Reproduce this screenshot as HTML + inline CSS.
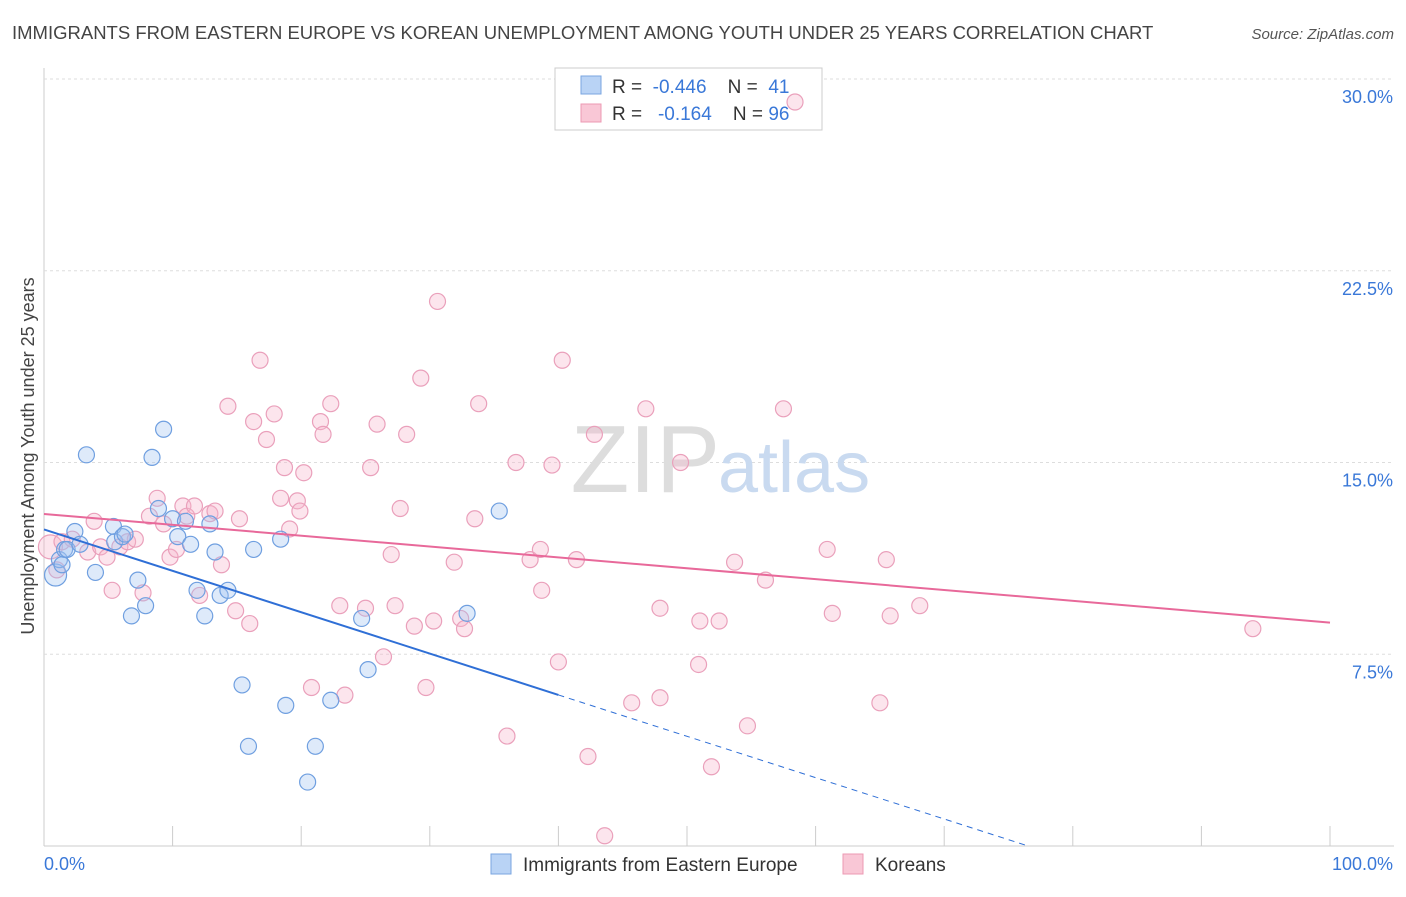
<!DOCTYPE html>
<html><head><meta charset="utf-8"><style>
body{margin:0;background:#fff;font-family:"Liberation Sans",sans-serif}
svg text{font-family:"Liberation Sans",sans-serif}
</style></head><body>
<svg id="chart" width="1406" height="892">
<text x="12" y="39" font-size="18.5" fill="#444">IMMIGRANTS FROM EASTERN EUROPE VS KOREAN UNEMPLOYMENT AMONG YOUTH UNDER 25 YEARS CORRELATION CHART</text>
<text x="1394" y="39" font-size="15" fill="#555" text-anchor="end" font-style="italic">Source: ZipAtlas.com</text>
<text transform="translate(34,456) rotate(-90)" font-size="18" fill="#444" text-anchor="middle">Unemployment Among Youth under 25 years</text>
<g id="grid"></g>
<text x="720" y="492" font-size="96" fill="#ddd" text-anchor="end" font-family="Liberation Serif">ZIP</text>
<text x="718" y="492" font-size="72" fill="#c9daf0">atlas</text>
<g>
<rect x="555" y="68" width="267" height="62" fill="#fff" stroke="#ccc"/>
<rect x="581" y="76" width="20" height="18" fill="#b9d3f5" stroke="#7aa6e0"/>
<rect x="581" y="104" width="20" height="18" fill="#f9c7d6" stroke="#ec9ab3"/>
<text x="612" y="93" font-size="19" fill="#333" xml:space="preserve">R =  <tspan fill="#3a78d8">-0.446</tspan>    N =  <tspan fill="#3a78d8">41</tspan></text>
<text x="612" y="120" font-size="19" fill="#333" xml:space="preserve">R =   <tspan fill="#3a78d8">-0.164</tspan>    N = <tspan fill="#3a78d8">96</tspan></text>
</g>
<g id="pts"></g>
<g id="lines"></g>
<g>
<rect x="491" y="854" width="20" height="20" fill="#b9d3f5" stroke="#7aa6e0"/>
<text x="523" y="871" font-size="19" fill="#333">Immigrants from Eastern Europe</text>
<rect x="843" y="854" width="20" height="20" fill="#f9c7d6" stroke="#ec9ab3"/>
<text x="875" y="871" font-size="19" fill="#333">Koreans</text>
</g>
</svg>
<script>
const yTicks=[7.5,15,22.5,30];
const yTickLabels=["7.5%","15.0%","22.5%","30.0%"];
const xTickLabels=["0.0%","100.0%"];
const blueX=[0.9,1.2,1.6,2.4,1.8,2.8,4.0,3.3,5.4,5.5,6.1,6.3,6.8,7.3,7.9,8.4,8.9,9.3,10.0,10.4,11.0,11.4,11.9,12.5,12.9,13.3,13.7,14.3,15.4,15.9,16.3,18.4,18.8,20.5,21.1,22.3,24.7,25.2,32.9,35.4,1.4];
const blueY=[10.6,11.2,11.6,12.3,11.6,11.8,10.7,15.3,12.5,11.9,12.1,12.2,9.0,10.4,9.4,15.2,13.2,16.3,12.8,12.1,12.7,11.8,10.0,9.0,12.6,11.5,9.8,10.0,6.3,3.9,11.6,12.0,5.5,2.5,3.9,5.7,8.9,6.9,9.1,13.1,11.0];
const pinkX=[0.5,1.0,1.4,2.2,3.4,3.9,4.4,4.9,5.3,5.9,6.5,7.1,7.7,8.2,8.8,9.3,9.8,10.3,10.8,11.1,11.7,12.1,12.9,13.3,13.8,14.3,14.9,15.2,16.0,16.3,16.8,17.3,17.9,18.4,18.7,19.1,19.7,19.9,20.2,20.8,21.5,21.7,22.3,23.0,23.4,25.0,25.4,25.9,26.4,27.0,27.3,27.7,28.2,28.8,29.3,29.7,30.3,30.6,31.9,32.4,32.7,33.5,33.8,36.0,36.7,37.8,38.6,38.7,39.5,40.0,40.3,41.4,42.3,42.8,43.6,45.7,46.8,47.9,47.9,49.5,50.9,51.0,51.9,52.5,53.7,54.7,56.1,57.5,58.4,60.9,61.3,65.0,65.5,65.8,68.1,94.0];
const pinkY=[11.7,10.8,11.9,12.0,11.5,12.7,11.7,11.3,10.0,11.7,11.9,12.0,9.9,12.9,13.6,12.6,11.3,11.6,13.3,12.9,13.3,9.8,13.0,13.1,11.0,17.2,9.2,12.8,8.7,16.6,19.0,15.9,16.9,13.6,14.8,12.4,13.5,13.1,14.6,6.2,16.6,16.1,17.3,9.4,5.9,9.3,14.8,16.5,7.4,11.4,9.4,13.2,16.1,8.6,18.3,6.2,8.8,21.3,11.1,8.9,8.5,12.8,17.3,4.3,15.0,11.2,11.6,10.0,14.9,7.2,19.0,11.2,3.5,16.1,0.4,5.6,17.1,9.3,5.8,15.0,7.1,8.8,3.1,8.8,11.1,4.7,10.4,17.1,29.1,11.6,9.1,5.6,11.2,9.0,9.4,8.5];
const xMin=0,xMax=100,yMin=0,yMax=30;
const X=v=>44+(v-xMin)/(xMax-xMin)*1286;
const Y=v=>846-(v-yMin)/(yMax-yMin)*767;
const ns="http://www.w3.org/2000/svg";
function mk(tag,attrs,parent){const e=document.createElementNS(ns,tag);for(const k in attrs)e.setAttribute(k,attrs[k]);parent.appendChild(e);return e;}
const grid=document.getElementById('grid');
const ax=mk('line',{x1:44,y1:68,x2:44,y2:846,stroke:'#ccc'},grid);


const bx=mk('line',{x1:44,y1:846,x2:1394,y2:846,stroke:'#ccc'},grid);


yTicks.forEach((t,i)=>{
 const g=mk('line',{x1:44,y1:Y(t),x2:1394,y2:Y(t),stroke:'#ddd','stroke-dasharray':'3,3'},grid);
 
 
 const tx=mk('text',{x:1393,y:Y(t)+24,'font-size':18,fill:'#3a78d8','text-anchor':'end'},grid);
 tx.textContent=yTickLabels[i];
 
 
});
for(let i=0;i<=10;i++){
 const tk=mk('line',{x1:X(i*10),y1:826,x2:X(i*10),y2:846,stroke:'#ccc'},grid);
 
 
}
[[xMin,44,'start'],[xMax,1393,'end']].forEach((a,i)=>{
 const tx=mk('text',{x:a[1],y:870,'font-size':18,fill:'#3a78d8','text-anchor':a[2]},grid);
 tx.textContent=xTickLabels[i];
 
 
});
const pts=document.getElementById('pts');
pinkX.forEach((x,i)=>{
 const c=mk('circle',{cx:X(x),cy:Y(pinkY[i]),r:i==0?12:8,fill:'rgba(246,180,203,0.35)',stroke:'#eaa0bb','stroke-width':1.2},pts);
 
 
});
blueX.forEach((x,i)=>{
 const c=mk('circle',{cx:X(x),cy:Y(blueY[i]),r:i==0?11:8,fill:'rgba(160,195,240,0.35)',stroke:'#6f9fe0','stroke-width':1.2},pts);
 
 
});
function fit(xs,ys){const n=xs.length;let mx=0,my=0;xs.forEach((v,i)=>{mx+=v;my+=ys[i]});mx/=n;my/=n;let sxy=0,sxx=0;xs.forEach((v,i)=>{sxy+=(v-mx)*(ys[i]-my);sxx+=(v-mx)**2});const b=sxy/sxx;return [my-b*mx,b];}
const lines=document.getElementById('lines');
const [ba,bb]=fit(blueX,blueY);
const l1=mk('line',{x1:X(0),y1:Y(ba),x2:X(40),y2:Y(ba+bb*40),stroke:'#2f6fd6','stroke-width':2},lines);


const xe=Math.min(100,-ba/bb);
const l2=mk('line',{x1:X(40),y1:Y(ba+bb*40),x2:X(xe),y2:Y(ba+bb*xe),stroke:'#2f6fd6','stroke-width':1,'stroke-dasharray':'6,5'},lines);


const [pa,pb]=fit(pinkX,pinkY);
const l3=mk('line',{x1:X(0),y1:Y(pa),x2:X(100),y2:Y(pa+pb*100),stroke:'#e8699a','stroke-width':2},lines);


</script>
</body></html>
